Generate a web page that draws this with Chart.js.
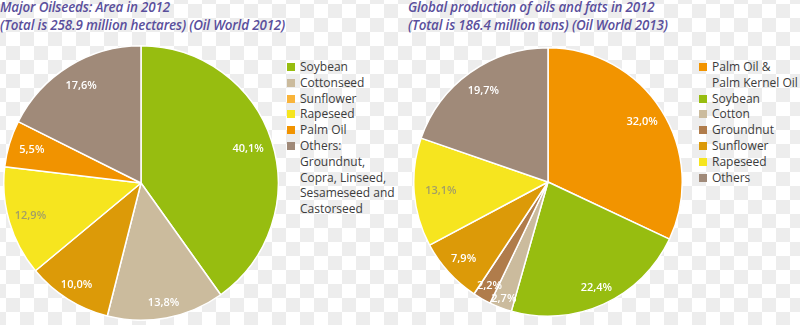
<!DOCTYPE html>
<html>
<head>
<meta charset="utf-8">
<script src="https://cdn.jsdelivr.net/npm/chart.js@4.4.0/dist/chart.umd.min.js"></script>
<style>
  html, body { margin:0; padding:0; }
  body {
    width:800px; height:325px; overflow:hidden; position:relative;
    background-color:#ffffff;
    background-image: conic-gradient(#ededed 25%, #ffffff 0 50%, #ededed 0 75%, #ffffff 0);
    background-size: 28px 28px;
    background-position: 6px 4px;
    font-family: "Open Sans", sans-serif;
  }
  .title { position:absolute; color:#5a4f9c; font-style:italic; font-weight:600; font-size:13.4px; line-height:18px; white-space:nowrap; letter-spacing:-0.15px; }
  .legend { position:absolute; font-size:12px; line-height:15.8px; color:#3c3c3c; white-space:nowrap; }
  .legend .row { position:relative; padding-left:13px; }
  .legend .sw { position:absolute; left:0; top:4px; width:8px; height:8px; }
  .cw { position:absolute; }
</style>
</head>
<body>
<div class="title" style="left:0px; top:-2px;">Major Oilseeds: Area in 2012<br>(Total is 258.9 million hectares) (Oil World 2012)</div>
<div class="title" style="left:408px; top:-2px;">Global production of oils and fats in 2012<br>(Total is 186.4 million tons) (Oil World 2013)</div>
<div class="cw" style="left:3px; top:45px; width:276px; height:276px;"><canvas id="c1"></canvas></div>
<div class="cw" style="left:413px; top:47px; width:270px; height:270px;"><canvas id="c2"></canvas></div>
<div class="legend" id="leg1" style="left:287px; top:59px;"></div>
<div class="legend" id="leg2" style="left:699px; top:59px;"></div>
<script>
// ---- Data ----
const areaCategories = ["Soybean", "Cottonseed", "Sunflower", "Rapeseed", "Palm Oil", "Others"];
const areaLegendText = [["Soybean"], ["Cottonseed"], ["Sunflower"], ["Rapeseed"], ["Palm Oil"], ["Others:", "Groundnut,", "Copra, Linseed,", "Sesameseed and", "Castorseed"]];
const areaShares = [40.1, 13.8, 10.0, 12.9, 5.5, 17.6];

const oilCategories = ["Palm Oil & Palm Kernel Oil", "Soybean", "Cotton", "Groundnut", "Sunflower", "Rapeseed", "Others"];
const oilLegendText = [["Palm Oil &", "Palm Kernel Oil"], ["Soybean"], ["Cotton"], ["Groundnut"], ["Sunflower"], ["Rapeseed"], ["Others"]];
const oilShares = [32.0, 22.4, 2.7, 2.2, 7.9, 13.1, 19.7];

// ---- Styles ----
const areaColors = ["#97bd10", "#cbbb9d", "#dc9a08", "#f6e51f", "#f19300", "#a08a79"];
const areaLegendColors = ["#97bd10", "#cbbb9d", "#f9b43a", "#f6e51f", "#f19300", "#a08a79"];
const areaLabelColors = ["#ffffff", "#ffffff", "#ffffff", "#a39f66", "#ffffff", "#ffffff"];
const areaLabelRadius = [0.82, 0.89, 0.88, 0.84, 0.83, 0.83];

const oilColors = ["#f29400", "#97bd10", "#cbbb9d", "#b07c4b", "#dc9a08", "#f6e51f", "#a08a79"];
const oilLabelColors = ["#ffffff", "#ffffff", "#ffffff", "#ffffff", "#ffffff", "#a39f66", "#ffffff"];
const oilLabelRadius = [0.83, 0.87, 0.93, 0.885, 0.85, 0.80, 0.83];

const fmt = v => v.toFixed(1).replace('.', ',') + '%';

const sliceLabels = {
  id: 'sliceLabels',
  afterDatasetsDraw(chart, args, opts) {
    const ctx = chart.ctx;
    const meta = chart.getDatasetMeta(0);
    const data = chart.data.datasets[0].data;
    ctx.save();
    ctx.font = '600 11px "Open Sans", sans-serif';
    ctx.textAlign = 'center';
    ctx.textBaseline = 'middle';
    meta.data.forEach((arc, i) => {
      const p = arc.getProps(['x', 'y', 'startAngle', 'endAngle', 'outerRadius'], true);
      const mid = (p.startAngle + p.endAngle) / 2;
      const r = p.outerRadius * opts.radius[i];
      ctx.fillStyle = opts.colors[i];
      ctx.fillText(fmt(data[i]), p.x + Math.cos(mid) * r, p.y + Math.sin(mid) * r);
    });
    ctx.restore();
  }
};

function makePie(id, labels, values, colors, labelColors, labelRadius) {
  return new Chart(document.getElementById(id), {
    type: 'pie',
    data: { labels, datasets: [{ data: values, backgroundColor: colors, borderColor: '#ffffff', borderWidth: 1.5 }] },
    options: {
      responsive: true, maintainAspectRatio: false, animation: false,
      layout: { padding: 0 },
      plugins: {
        legend: { display: false },
        tooltip: { enabled: false },
        sliceLabels: { colors: labelColors, radius: labelRadius }
      }
    },
    plugins: [sliceLabels]
  });
}

function makeLegend(id, texts, colors) {
  const el = document.getElementById(id);
  texts.forEach((lines, i) => {
    const row = document.createElement('div');
    row.className = 'row';
    const sw = document.createElement('span');
    sw.className = 'sw';
    sw.style.background = colors[i];
    row.appendChild(sw);
    lines.forEach((t, j) => {
      if (j) row.appendChild(document.createElement('br'));
      row.appendChild(document.createTextNode(t));
    });
    el.appendChild(row);
  });
}

makePie('c1', areaCategories, areaShares, areaColors, areaLabelColors, areaLabelRadius);
makePie('c2', oilCategories, oilShares, oilColors, oilLabelColors, oilLabelRadius);
makeLegend('leg1', areaLegendText, areaLegendColors);
makeLegend('leg2', oilLegendText, oilColors);
</script>
</body>
</html>
